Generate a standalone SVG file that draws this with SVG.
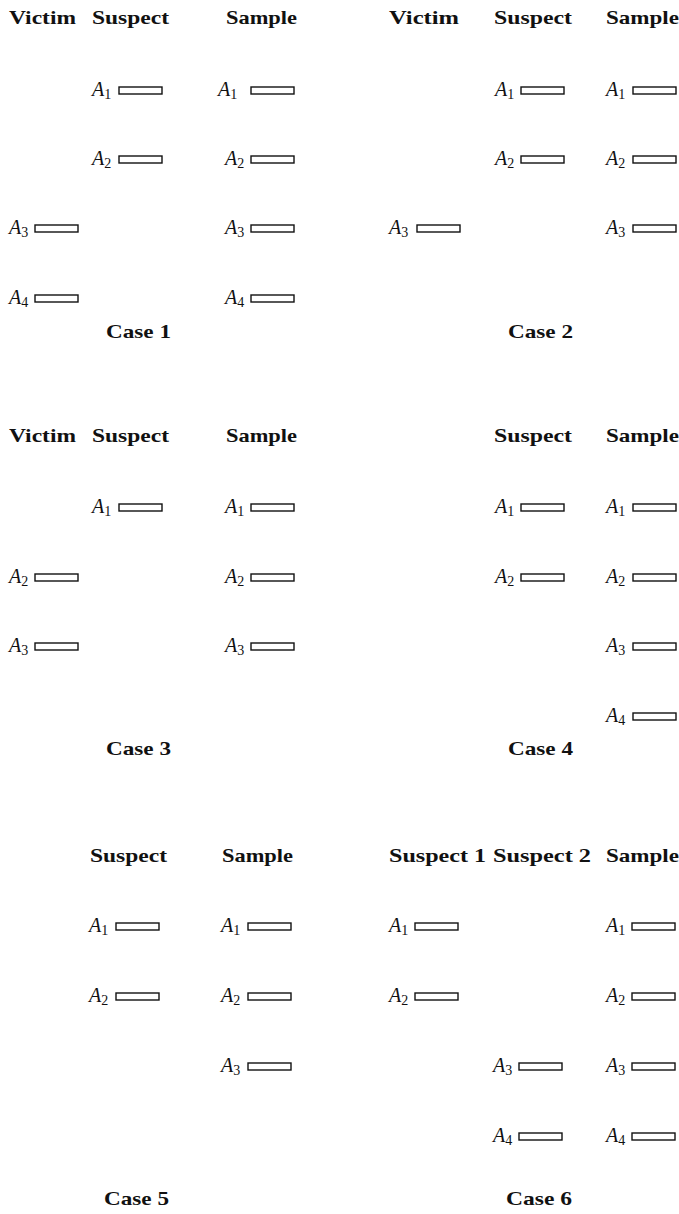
<svg xmlns="http://www.w3.org/2000/svg" width="679" height="1214" viewBox="0 0 679 1214">
<style>
.h{font-family:"Liberation Serif","DejaVu Serif",serif;font-weight:bold;font-size:19px;fill:#111}
.c{font-family:"Liberation Serif","DejaVu Serif",serif;font-weight:bold;font-size:19px;fill:#111}
.a{font-family:"Liberation Serif",serif;font-style:italic;font-size:20px;fill:#111}
.s{font-style:normal;font-size:14px}
.b{fill:#fff;stroke:#111;stroke-width:1.4}
</style>
<rect width="679" height="1214" fill="#fff"/>
<defs>
<rect id="bx" class="b" x="0" y="0" width="43" height="7"/>
</defs>

<!-- Case 1 -->
<g id="case1">
<text class="h" x="9" y="24" textLength="67" lengthAdjust="spacingAndGlyphs">Victim</text>
<text class="h" x="92" y="24" textLength="77" lengthAdjust="spacingAndGlyphs">Suspect</text>
<text class="h" x="226" y="24" textLength="71" lengthAdjust="spacingAndGlyphs">Sample</text>
<g id="c1-sus-a1"><text class="a" x="92" y="96">A<tspan class="s" dy="3">1</tspan></text><use href="#bx" x="119" y="87"/></g>
<g id="c1-sus-a2"><text class="a" x="92" y="165">A<tspan class="s" dy="3">2</tspan></text><use href="#bx" x="119" y="156"/></g>
<g id="c1-vic-a3"><text class="a" x="9" y="234">A<tspan class="s" dy="3">3</tspan></text><use href="#bx" x="35" y="225"/></g>
<g id="c1-vic-a4"><text class="a" x="9" y="304">A<tspan class="s" dy="3">4</tspan></text><use href="#bx" x="35" y="295"/></g>
<g id="c1-sam-a1"><text class="a" x="218" y="96">A<tspan class="s" dy="3">1</tspan></text><use href="#bx" x="251" y="87"/></g>
<g id="c1-sam-a2"><text class="a" x="225" y="165">A<tspan class="s" dy="3">2</tspan></text><use href="#bx" x="251" y="156"/></g>
<g id="c1-sam-a3"><text class="a" x="225" y="234">A<tspan class="s" dy="3">3</tspan></text><use href="#bx" x="251" y="225"/></g>
<g id="c1-sam-a4"><text class="a" x="225" y="304">A<tspan class="s" dy="3">4</tspan></text><use href="#bx" x="251" y="295"/></g>
<text class="c" x="106" y="338" textLength="65" lengthAdjust="spacingAndGlyphs">Case 1</text>
</g>

<!-- Case 2 -->
<g id="case2">
<text class="h" x="389" y="24" textLength="70" lengthAdjust="spacingAndGlyphs">Victim</text>
<text class="h" x="494" y="24" textLength="78" lengthAdjust="spacingAndGlyphs">Suspect</text>
<text class="h" x="606" y="24" textLength="73" lengthAdjust="spacingAndGlyphs">Sample</text>
<g id="c2-sus-a1"><text class="a" x="495" y="96">A<tspan class="s" dy="3">1</tspan></text><use href="#bx" x="521" y="87"/></g>
<g id="c2-sus-a2"><text class="a" x="495" y="165">A<tspan class="s" dy="3">2</tspan></text><use href="#bx" x="521" y="156"/></g>
<g id="c2-vic-a3"><text class="a" x="389" y="234">A<tspan class="s" dy="3">3</tspan></text><use href="#bx" x="417" y="225"/></g>
<g id="c2-sam-a1"><text class="a" x="606" y="96">A<tspan class="s" dy="3">1</tspan></text><use href="#bx" x="633" y="87"/></g>
<g id="c2-sam-a2"><text class="a" x="606" y="165">A<tspan class="s" dy="3">2</tspan></text><use href="#bx" x="633" y="156"/></g>
<g id="c2-sam-a3"><text class="a" x="606" y="234">A<tspan class="s" dy="3">3</tspan></text><use href="#bx" x="633" y="225"/></g>
<text class="c" x="508" y="338" textLength="65" lengthAdjust="spacingAndGlyphs">Case 2</text>
</g>

<!-- Case 3 -->
<g id="case3">
<text class="h" x="9" y="442" textLength="67" lengthAdjust="spacingAndGlyphs">Victim</text>
<text class="h" x="92" y="442" textLength="77" lengthAdjust="spacingAndGlyphs">Suspect</text>
<text class="h" x="226" y="442" textLength="71" lengthAdjust="spacingAndGlyphs">Sample</text>
<g id="c3-sus-a1"><text class="a" x="92" y="513">A<tspan class="s" dy="3">1</tspan></text><use href="#bx" x="119" y="504"/></g>
<g id="c3-vic-a2"><text class="a" x="9" y="583">A<tspan class="s" dy="3">2</tspan></text><use href="#bx" x="35" y="574"/></g>
<g id="c3-vic-a3"><text class="a" x="9" y="652">A<tspan class="s" dy="3">3</tspan></text><use href="#bx" x="35" y="643"/></g>
<g id="c3-sam-a1"><text class="a" x="225" y="513">A<tspan class="s" dy="3">1</tspan></text><use href="#bx" x="251" y="504"/></g>
<g id="c3-sam-a2"><text class="a" x="225" y="583">A<tspan class="s" dy="3">2</tspan></text><use href="#bx" x="251" y="574"/></g>
<g id="c3-sam-a3"><text class="a" x="225" y="652">A<tspan class="s" dy="3">3</tspan></text><use href="#bx" x="251" y="643"/></g>
<text class="c" x="106" y="755" textLength="65" lengthAdjust="spacingAndGlyphs">Case 3</text>
</g>

<!-- Case 4 -->
<g id="case4">
<text class="h" x="494" y="442" textLength="78" lengthAdjust="spacingAndGlyphs">Suspect</text>
<text class="h" x="606" y="442" textLength="73" lengthAdjust="spacingAndGlyphs">Sample</text>
<g id="c4-sus-a1"><text class="a" x="495" y="513">A<tspan class="s" dy="3">1</tspan></text><use href="#bx" x="521" y="504"/></g>
<g id="c4-sus-a2"><text class="a" x="495" y="583">A<tspan class="s" dy="3">2</tspan></text><use href="#bx" x="521" y="574"/></g>
<g id="c4-sam-a1"><text class="a" x="606" y="513">A<tspan class="s" dy="3">1</tspan></text><use href="#bx" x="633" y="504"/></g>
<g id="c4-sam-a2"><text class="a" x="606" y="583">A<tspan class="s" dy="3">2</tspan></text><use href="#bx" x="633" y="574"/></g>
<g id="c4-sam-a3"><text class="a" x="606" y="652">A<tspan class="s" dy="3">3</tspan></text><use href="#bx" x="633" y="643"/></g>
<g id="c4-sam-a4"><text class="a" x="606" y="722">A<tspan class="s" dy="3">4</tspan></text><use href="#bx" x="633" y="713"/></g>
<text class="c" x="508" y="755" textLength="65" lengthAdjust="spacingAndGlyphs">Case 4</text>
</g>

<!-- Case 5 -->
<g id="case5">
<text class="h" x="90" y="862" textLength="77" lengthAdjust="spacingAndGlyphs">Suspect</text>
<text class="h" x="222" y="862" textLength="71" lengthAdjust="spacingAndGlyphs">Sample</text>
<g id="c5-sus-a1"><text class="a" x="89" y="932">A<tspan class="s" dy="3">1</tspan></text><use href="#bx" x="116" y="923"/></g>
<g id="c5-sus-a2"><text class="a" x="89" y="1002">A<tspan class="s" dy="3">2</tspan></text><use href="#bx" x="116" y="993"/></g>
<g id="c5-sam-a1"><text class="a" x="221" y="932">A<tspan class="s" dy="3">1</tspan></text><use href="#bx" x="248" y="923"/></g>
<g id="c5-sam-a2"><text class="a" x="221" y="1002">A<tspan class="s" dy="3">2</tspan></text><use href="#bx" x="248" y="993"/></g>
<g id="c5-sam-a3"><text class="a" x="221" y="1072">A<tspan class="s" dy="3">3</tspan></text><use href="#bx" x="248" y="1063"/></g>
<text class="c" x="104" y="1205" textLength="65" lengthAdjust="spacingAndGlyphs">Case 5</text>
</g>

<!-- Case 6 -->
<g id="case6">
<text class="h" x="389" y="862" textLength="97" lengthAdjust="spacingAndGlyphs">Suspect 1</text>
<text class="h" x="493" y="862" textLength="98" lengthAdjust="spacingAndGlyphs">Suspect 2</text>
<text class="h" x="606" y="862" textLength="73" lengthAdjust="spacingAndGlyphs">Sample</text>
<g id="c6-s1-a1"><text class="a" x="389" y="932">A<tspan class="s" dy="3">1</tspan></text><use href="#bx" x="415" y="923"/></g>
<g id="c6-s1-a2"><text class="a" x="389" y="1002">A<tspan class="s" dy="3">2</tspan></text><use href="#bx" x="415" y="993"/></g>
<g id="c6-s2-a3"><text class="a" x="493" y="1072">A<tspan class="s" dy="3">3</tspan></text><use href="#bx" x="519" y="1063"/></g>
<g id="c6-s2-a4"><text class="a" x="493" y="1142">A<tspan class="s" dy="3">4</tspan></text><use href="#bx" x="519" y="1133"/></g>
<g id="c6-sam-a1"><text class="a" x="606" y="932">A<tspan class="s" dy="3">1</tspan></text><use href="#bx" x="632" y="923"/></g>
<g id="c6-sam-a2"><text class="a" x="606" y="1002">A<tspan class="s" dy="3">2</tspan></text><use href="#bx" x="632" y="993"/></g>
<g id="c6-sam-a3"><text class="a" x="606" y="1072">A<tspan class="s" dy="3">3</tspan></text><use href="#bx" x="632" y="1063"/></g>
<g id="c6-sam-a4"><text class="a" x="606" y="1142">A<tspan class="s" dy="3">4</tspan></text><use href="#bx" x="632" y="1133"/></g>
<text class="c" x="506" y="1205" textLength="66" lengthAdjust="spacingAndGlyphs">Case 6</text>
</g>

<g id="connectors"></g>
</svg>
